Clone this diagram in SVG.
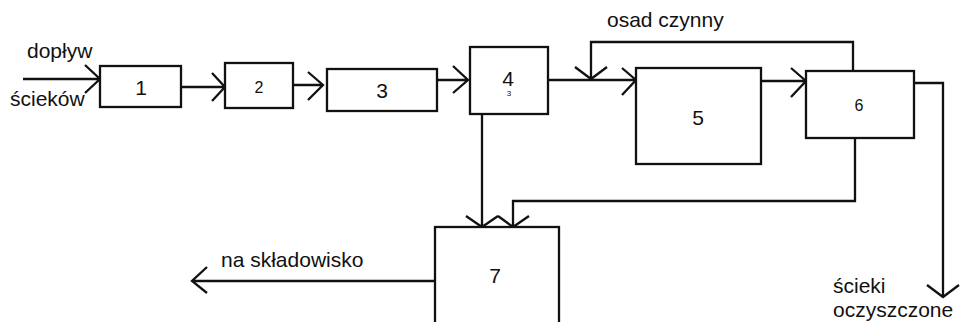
<svg xmlns="http://www.w3.org/2000/svg" width="961" height="322" viewBox="0 0 961 322">
<style>
.box{fill:#fff;stroke:#111;stroke-width:2.3}
.ln{fill:none;stroke:#111;stroke-width:2.3}
.t{font-family:"Liberation Sans",Arial,sans-serif;font-size:21px;fill:#111}
.s{font-size:16px}
.m{text-anchor:middle}
</style>
<rect width="961" height="322" fill="#fff"/>
<g id="connectors">
<path class="ln" d="M23 79 H100 M85 65 L100 79 L85 93"/>
<path class="ln" d="M181 87 H225 M212 73 L225 87 L212 101"/>
<path class="ln" d="M293 85 H323 M308 72 L323 85 L308 100"/>
<path class="ln" d="M437 80 H468 M453 66 L468 80 L453 93"/>
<path class="ln" d="M548 80 H636 M622 68 L636 80 L622 95"/>
<path class="ln" d="M853 71 V42 H591 V79 M575 67 L591 79 L607 67"/>
<path class="ln" d="M761 81 H806 M791 68 L806 81 L791 97"/>
<path class="ln" d="M914 83 H943 V297 M927 285 L943 297 L959 285"/>
<path class="ln" d="M482 114 V227 M466 216 L482 227 L498 216"/>
<path class="ln" d="M855 138 V201 H513 V227 M498 216 L513 227 L529 216"/>
<path class="ln" d="M435 281 H192 M207 267 L192 281 L207 293"/>
</g>
<g id="node1"><rect class="box" x="100" y="66" width="81" height="41"/><text class="t m" x="141" y="95">1</text></g>
<g id="node2"><rect class="box" x="225" y="63" width="68" height="45"/><text class="t s m" x="259" y="93">2</text></g>
<g id="node3"><rect class="box" x="327" y="69" width="110" height="42"/><text class="t m" x="382" y="98">3</text></g>
<g id="node4"><rect class="box" x="470" y="47" width="78" height="67"/><text class="t m" x="508" y="86">4</text><text class="t m" x="509" y="96" style="font-size:8px">3</text></g>
<g id="node5"><rect class="box" x="636" y="68" width="125" height="96"/><text class="t m" x="698" y="125">5</text></g>
<g id="node6"><rect class="box" x="806" y="71" width="108" height="67"/><text class="t s m" x="859" y="111">6</text></g>
<g id="node7"><rect class="box" x="435" y="227" width="124" height="110"/><text class="t m" x="495" y="283">7</text></g>
<g id="labels">
<text class="t" x="27" y="58">dopływ</text>
<text class="t" x="10" y="106">ścieków</text>
<text class="t" x="607" y="27">osad czynny</text>
<text class="t" x="221" y="267">na składowisko</text>
<text class="t" x="833" y="293">ścieki</text>
<text class="t" x="833" y="317">oczyszczone</text>
</g>
</svg>
